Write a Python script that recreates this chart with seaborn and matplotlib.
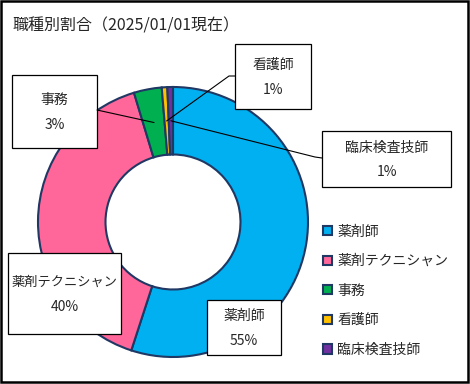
import seaborn as sns
import matplotlib.pyplot as plt
from matplotlib.patches import Rectangle
import numpy as np

sns.set_style("white")
plt.rcParams['font.family'] = ['Noto Sans CJK JP', 'DejaVu Sans']

title = "職種別割合（2025/01/01現在）"
jobs = ["薬剤師", "薬剤テクニシャン", "事務", "看護師", "臨床検査技師"]
counts = [165, 121, 10, 2, 2]
colors = ["#00B0F0", "#FF6699", "#00B050", "#FFC000", "#7030A0"]
edge = "#203864"

# label boxes in pixels: left, top, right, bottom
boxes = {
    "薬剤師": (207, 300, 281, 355),
    "薬剤テクニシャン": (8, 253, 121, 334),
    "事務": (12, 75, 97, 148),
    "看護師": (235, 44, 311, 109),
    "臨床検査技師": (322, 131, 451, 187),
}
# leader line anchor on the box side (pixels)
leaders = {
    "事務": [(97, 110)],
    "看護師": [(235, 76), (229, 76)],
    "臨床検査技師": [(322, 158), (315, 157)],
}

W, H = 470, 384
fig = plt.figure(figsize=(W / 100, H / 100), dpi=100)

# donut: centre (173, 222), radius 135 px
cx, cy, r = 173, 222, 135
ax = fig.add_axes([(cx - r) / W, (H - cy - r) / H, 2 * r / W, 2 * r / H])
wedges, _ = ax.pie(counts, colors=colors, startangle=90, counterclock=False,
                   radius=1, wedgeprops=dict(width=0.5, edgecolor=edge, linewidth=1.5))
ax.set_xlim(-1, 1)
ax.set_ylim(-1, 1)
ax.set_aspect("equal")
ax.axis("off")

over = fig.add_axes([0, 0, 1, 1], zorder=5)
over.set_xlim(0, W)
over.set_ylim(H, 0)
over.axis("off")
over.patch.set_alpha(0)

total = sum(counts)
to_px = lambda p: over.transData.inverted().transform(ax.transData.transform(p))

for name, w, n in zip(jobs, wedges, counts):
    l, t, rr, b = boxes[name]
    if name in leaders:
        mid = np.deg2rad((w.theta1 + w.theta2) / 2)
        tip = to_px((0.75 * np.cos(mid), 0.75 * np.sin(mid)))
        pts = leaders[name] + [tuple(tip)]
        over.plot([p[0] for p in pts], [p[1] for p in pts], color="black", lw=0.8)
    over.add_patch(Rectangle((l, t), rr - l, b - t, facecolor="white",
                             edgecolor="black", lw=0.9))
    c = (t + b) / 2
    fs = 9.5 if len(name) > 6 else 10
    over.text((l + rr) / 2, c - 11.5, name, ha="center", va="center", fontsize=fs)
    over.text((l + rr) / 2, c + 13.5, f"{round(n / total * 100)}%", ha="center",
              va="center", fontsize=10)

over.text(12, 26, title, ha="left", va="center", fontsize=11.5)

leg = over.legend(wedges, jobs, loc="upper left", bbox_to_anchor=(317 / W, 1 - 219 / H),
                  bbox_transform=fig.transFigure, frameon=False, fontsize=10,
                  handlelength=0.65, handleheight=0.65, handletextpad=0.4,
                  labelspacing=1.12, borderaxespad=0)

over.add_patch(Rectangle((1, 1), W - 3, H - 3, facecolor="none", edgecolor="black", lw=1.8))

plt.savefig("out.png", dpi=100)
